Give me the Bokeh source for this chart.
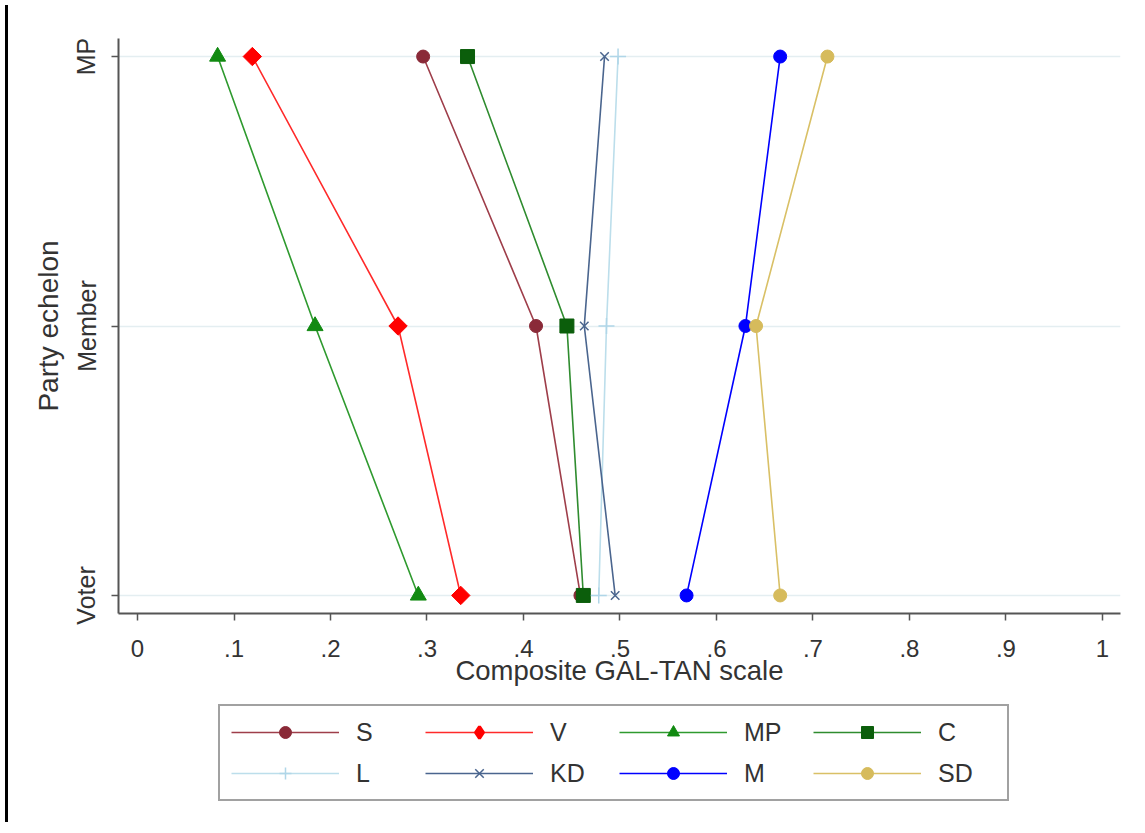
import math
from bokeh.plotting import figure
from bokeh.models import FixedTicker, Legend, LegendItem, Div, Range1d
from bokeh.layouts import row, column
from bokeh.embed import file_html
from bokeh.resources import INLINE

# ---- data ----
echelons = ["Voter", "Member", "MP"]          # y categories (bottom -> top)
echelon_pos = [0, 1, 2]
x_tick_values = [0, 0.1, 0.2, 0.3, 0.4, 0.5, 0.6, 0.7, 0.8, 0.9, 1.0]
x_tick_labels = ["0", ".1", ".2", ".3", ".4", ".5", ".6", ".7", ".8", ".9", "1"]

parties = ["S", "V", "MP", "C", "L", "KD", "M", "SD"]
# values ordered Voter, Member, MP
S_vals = [0.459, 0.413, 0.296]
V_vals = [0.335, 0.270, 0.119]
MP_vals = [0.291, 0.184, 0.083]
C_vals = [0.462, 0.445, 0.342]
L_vals = [0.478, 0.486, 0.498]
KD_vals = [0.495, 0.463, 0.484]
M_vals = [0.569, 0.630, 0.666]
SD_vals = [0.666, 0.641, 0.715]

series = {"S": S_vals, "V": V_vals, "MP": MP_vals, "C": C_vals,
          "L": L_vals, "KD": KD_vals, "M": M_vals, "SD": SD_vals}

# styles: (line color, marker color, marker, size, angle, legend marker)
styles = {
    "S":  ("#9e3e4a", "#8a2a38", "circle", 13, 0, "circle"),
    "V":  ("#ff2a2a", "#ff0000", "square", 13, math.pi / 4, "diamond"),
    "MP": ("#2f9a2f", "#118a11", "triangle", 16, 0, "triangle"),
    "C":  ("#2f8c2f", "#0b5e0b", "square", 14, 0, "square"),
    "L":  ("#bcdeeb", "#b0d6e8", "cross", 16, 0, "cross"),
    "KD": ("#4a658e", "#4a658e", "x", 12, 0, "x"),
    "M":  ("#0000ff", "#0000ff", "circle", 13, 0, "circle"),
    "SD": ("#d9c066", "#d6bb5c", "circle", 13, 0, "circle"),
}

FONT = "Liberation Sans"
TXT = "#333333"

p = figure(width=1126, height=698,
           x_range=Range1d(-0.0197, 1.0187), y_range=Range1d(-0.067, 2.067),
           output_backend="svg", toolbar_location=None,
           min_border_left=105, min_border_right=19, min_border_top=38,
           min_border_bottom=85)
p.outline_line_color = None
p.background_fill_color = "white"
p.border_fill_color = "white"

# legend-only figure (placed below the chart)
lg = figure(width=1126, height=119, output_backend="svg", toolbar_location=None,
            x_range=Range1d(0, 1), y_range=Range1d(0, 1),
            x_axis_location=None, y_axis_location=None,
            min_border_left=0, min_border_right=0, min_border_top=0,
            min_border_bottom=0)
lg.grid.visible = False
lg.outline_line_color = None
lg.border_fill_color = "white"
lg.background_fill_color = "white"

handles = {}
for name in parties:
    lc, mc, mk, sz, ang, lmk = styles[name]
    p.line(series[name], echelon_pos, line_color=lc, line_width=1.6)
    kw = dict(size=sz, line_color=mc, fill_color=mc)
    if mk in ("cross", "x"):
        kw["line_width"] = 1.5
    p.scatter(series[name], echelon_pos, marker=mk, angle=ang, **kw)
    # legend proxies, placed outside the legend figure's visible range
    r_line = lg.line([-5, -4], [-5, -5], line_color=lc, line_width=1.6)
    lkw = dict(kw)
    if lmk == "diamond":
        lkw["line_width"] = 3
    r_pt = lg.scatter([-5], [-5], marker=lmk, **lkw)
    handles[name] = LegendItem(label=name, renderers=[r_line, r_pt])

# legend is filled column by column: rows are S V MP C / L KD M SD
legend_order = ["S", "L", "V", "KD", "MP", "M", "C", "SD"]
items = [handles[n] for n in legend_order]

# axes
p.xaxis.ticker = FixedTicker(ticks=x_tick_values)
p.xaxis.major_label_overrides = {v: l for v, l in zip(x_tick_values, x_tick_labels)}
p.yaxis.ticker = FixedTicker(ticks=echelon_pos)
p.yaxis.major_label_overrides = {v: l for v, l in zip(echelon_pos, echelons)}
p.yaxis.major_label_orientation = "parallel"

p.xaxis.axis_label = "Composite GAL-TAN scale"
p.yaxis.axis_label = "Party echelon"

for ax in (p.xaxis, p.yaxis):
    ax.axis_line_color = "#555555"
    ax.axis_line_width = 2
    ax.major_tick_line_color = "#555555"
    ax.major_tick_line_width = 1.5
    ax.major_tick_out = 7
    ax.major_tick_in = 0
    ax.minor_tick_line_color = None
    ax.major_label_text_font = FONT
    ax.major_label_text_color = TXT
    ax.axis_label_text_font = FONT
    ax.axis_label_text_font_style = "normal"
    ax.axis_label_text_color = TXT

p.xaxis.major_label_text_font_size = "24px"
p.xaxis.axis_label_text_font_size = "27.5px"
p.yaxis.major_label_text_font_size = "25px"
p.yaxis.axis_label_text_font_size = "28px"

p.xaxis.major_label_standoff = 19
p.xaxis.axis_label_standoff = -5
p.yaxis.major_label_standoff = 11
p.yaxis.axis_label_standoff = 6

p.xgrid.grid_line_color = None
p.ygrid.grid_line_color = "#e4eef1"
p.ygrid.grid_line_width = 1.5

legend = Legend(items=items, ncols=4, location=(100, 16),
                glyph_width=108, glyph_height=30, label_standoff=17,
                label_width=58, spacing=11, padding=11, margin=0,
                label_text_font=FONT, label_text_font_size="25px",
                label_text_color=TXT,
                border_line_color="#444444", border_line_width=2,
                background_fill_color="white", background_fill_alpha=1.0)
lg.add_layout(legend, "center")

bar = Div(width=3, height=817, styles={"background-color": "black"})
layout = row(bar, column(p, lg))

open("out.html", "w").write(file_html(layout, INLINE))
